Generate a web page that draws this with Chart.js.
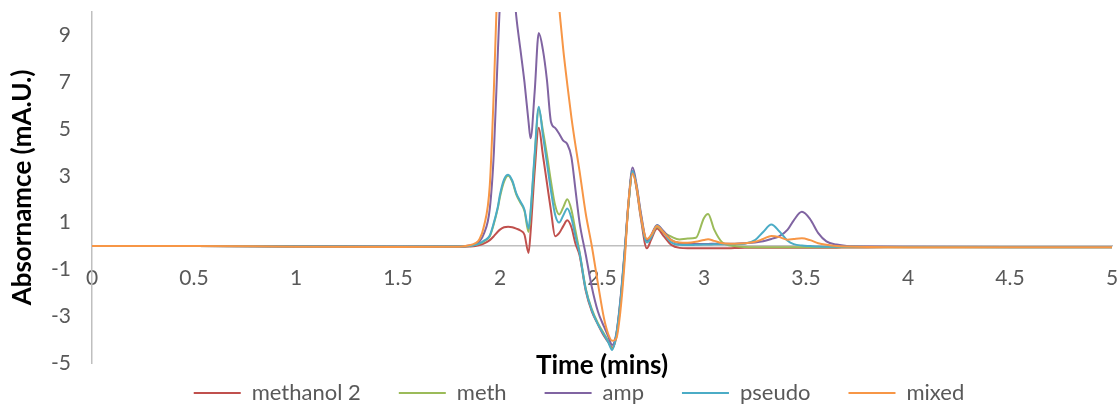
<!DOCTYPE html>
<html>
<head>
<meta charset="utf-8">
<script src="https://cdn.jsdelivr.net/npm/chart.js@4/dist/chart.umd.min.js"></script>
<style>
  html, body { margin: 0; padding: 0; background: #ffffff; }
  #wrap { width: 1120px; height: 405px; }
</style>
</head>
<body>
<div id="wrap"><canvas id="chromatogram" width="1120" height="405"></canvas></div>
<script>
// Retention time (minutes) of each sample point
const times = [
  0, 0.5, 1.0, 1.5, 1.8, 1.85, 1.88, 1.9, 1.92, 1.95,
  1.97, 1.99, 2.0, 2.02, 2.04, 2.06, 2.08, 2.1, 2.12, 2.14,
  2.15, 2.17, 2.19, 2.21, 2.23, 2.25, 2.27, 2.29, 2.31, 2.33,
  2.35, 2.37, 2.39, 2.42, 2.45, 2.48, 2.51, 2.53, 2.55, 2.57,
  2.59, 2.61, 2.63, 2.65, 2.67, 2.69, 2.72, 2.74, 2.77, 2.8,
  2.84, 2.88, 2.92, 2.96, 3.0, 3.02, 3.05, 3.09, 3.15, 3.2,
  3.25, 3.29, 3.33, 3.37, 3.41, 3.44, 3.48, 3.52, 3.56, 3.6,
  3.65, 3.7, 3.8, 4.0, 4.5, 5.0
];

// Absorbance (mA.U.) per sample
const methanol2 = [
  0, 0, -0.02, -0.03, -0.03, -0.02, 0, 0.04, 0.1, 0.25,
  0.42, 0.62, 0.7, 0.8, 0.82, 0.8, 0.74, 0.66, 0.48, -0.3,
  0.6, 3.2, 5.05, 3.9, 2.7, 1.5, 0.42, 0.55, 0.85, 1.1,
  0.8, 0.1, -0.4, -1.9, -2.8, -3.35, -3.85, -4.1, -4.35, -3.9,
  -2.5, -0.5, 1.8, 3.2, 2.4, 1.2, -0.1, 0.25, 0.75, 0.45,
  0.05, -0.08, -0.1, -0.1, -0.1, -0.1, -0.1, -0.1, -0.09, -0.08,
  -0.08, -0.08, -0.08, -0.08, -0.08, -0.08, -0.08, -0.07, -0.07, -0.07,
  -0.07, -0.06, -0.06, -0.05, -0.05, -0.05
];
const meth = [
  0, 0, -0.02, -0.03, -0.02, 0, 0.05, 0.1, 0.2, 0.42,
  0.95, 1.65, 2.1, 2.75, 3.0, 2.75, 2.2, 1.85, 1.5, 0.6,
  1.4, 3.8, 5.85, 4.95, 3.9, 2.75, 1.75, 1.35, 1.65, 2.0,
  1.55, 0.65, -0.25, -1.8, -2.7, -3.3, -3.75, -4.05, -4.4, -3.8,
  -2.4, -0.4, 1.8, 3.2, 2.5, 1.35, 0.2, 0.4, 0.82, 0.6,
  0.4, 0.28, 0.32, 0.35, 1.2, 1.37, 0.7, 0.15, 0.0, -0.04,
  -0.05, -0.05, -0.05, -0.05, -0.05, -0.05, -0.05, -0.05, -0.05, -0.05,
  -0.05, -0.05, -0.05, -0.05, -0.05, -0.05
];
const amp = [
  0, 0, -0.02, -0.03, -0.02, 0.02, 0.08, 0.2, 0.5, 1.6,
  4.0, 8.4, 10.4, 12.5, 13.0, 11.8, 9.8, 8.4, 7.0, 5.3,
  4.6, 6.6, 9.1, 8.4, 7.1, 5.3, 5.05, 4.8, 4.5, 4.35,
  3.8, 2.4, 1.0, -0.35, -1.75, -2.8, -3.45, -3.85, -4.23, -3.75,
  -2.3, -0.3, 1.9, 3.35, 2.6, 1.45, 0.25, 0.45, 0.9, 0.65,
  0.25, 0.12, 0.1, 0.09, 0.09, 0.09, 0.1, 0.1, 0.1, 0.12,
  0.15, 0.2, 0.3, 0.42, 0.7, 1.1, 1.46, 1.15, 0.55, 0.2,
  0.06, 0.0, -0.02, -0.03, -0.04, -0.04
];
const pseudo = [
  0, 0, -0.02, -0.03, -0.02, 0, 0.05, 0.11, 0.22, 0.45,
  1.0, 1.7, 2.2, 2.85, 3.05, 2.8, 2.25, 1.9, 1.55, 0.75,
  1.5, 3.95, 5.95, 4.75, 3.55, 2.35, 1.35, 1.0, 1.3, 1.6,
  1.2, 0.4, -0.3, -1.85, -2.75, -3.35, -3.8, -4.1, -4.44, -3.8,
  -2.4, -0.4, 1.8, 3.2, 2.5, 1.3, 0.15, 0.35, 0.88, 0.6,
  0.15, 0.05, 0.04, 0.05, 0.06, 0.06, 0.07, 0.07, 0.08, 0.1,
  0.25, 0.6, 0.92, 0.62, 0.22, 0.08, 0.02, 0.0, -0.02, -0.03,
  -0.03, -0.03, -0.04, -0.04, -0.05, -0.05
];
const mixed = [
  0, 0, -0.03, -0.04, -0.03, 0.03, 0.12, 0.3, 0.8, 2.6,
  6.7, 12, 14, 17, 19, 20, 21, 21.5, 21.5, 21,
  20.5, 19.5, 18, 16.5, 15, 13.5, 12, 10.2, 8.4, 6.9,
  5.5, 4.3, 3.2, 1.4, 0.0, -1.6, -3.1, -3.75, -4.05, -3.95,
  -2.8, -0.8, 1.9, 3.1, 2.5, 1.3, 0.3, 0.45, 0.85, 0.6,
  0.25, 0.15, 0.14, 0.18, 0.26, 0.29, 0.22, 0.12, 0.1, 0.12,
  0.18, 0.3, 0.43, 0.38, 0.27, 0.3, 0.33, 0.25, 0.12, 0.05,
  0.0, -0.02, -0.04, -0.05, -0.05, -0.05
];

const seriesNames = ['methanol 2', 'meth', 'amp', 'pseudo', 'mixed'];
const seriesColors = ['#C0504D', '#9BBB59', '#8064A2', '#4BACC6', '#F79646'];
const xTickValues = [0, 0.5, 1, 1.5, 2, 2.5, 3, 3.5, 4, 4.5, 5];
const yTickValues = [-5, -3, -1, 1, 3, 5, 7, 9];
const xAxisTitle = 'Time (mins)';
const yAxisTitle = 'Absornamce (mA.U.)';

const FONT = 'Lato, "Liberation Sans", sans-serif';
const AXIS_GREY = '#BFBFBF';
const LABEL_GREY = '#595959';
const LEGEND_FONT_SIZE = 22;
const LEGEND_GAP = 38;
const seriesValues = [methanol2, meth, amp, pseudo, mixed];

const datasets = seriesValues.map((vals, i) => ({
  label: seriesNames[i],
  data: times.map((t, k) => ({ x: t, y: vals[k] })),
  borderColor: seriesColors[i],
  backgroundColor: seriesColors[i],
  borderWidth: 2,
  pointRadius: 0,
  cubicInterpolationMode: 'monotone',
  order: seriesValues.length - i   // later series drawn on top
}));

// Caption for the time axis, centred under the plot area
const timeCaption = {
  id: 'timeCaption',
  afterDraw(chart) {
    const { ctx, chartArea } = chart;
    ctx.save();
    ctx.font = 'bold 26px ' + FONT;
    ctx.fillStyle = '#000000';
    ctx.textAlign = 'center';
    ctx.textBaseline = 'middle';
    ctx.fillText(xAxisTitle, (chartArea.left + chartArea.right) / 2, chartArea.bottom + 3);
    ctx.restore();
  }
};

// The legend keeps a short slot in the layout; its row is then set
// so the labels sit centred on y = 393, below the caption.
const legendPlacement = {
  id: 'legendPlacement',
  afterLayout(chart) {
    const lg = chart.legend;
    if (!lg) return;
    const rowCentre = 393;
    const dx = 0;
    lg.top = rowCentre - LEGEND_GAP - LEGEND_FONT_SIZE / 2;
    lg.bottom = chart.height;
    lg.height = lg.bottom - lg.top;
    lg.left += dx; lg.right += dx;
  }
};

new Chart(document.getElementById('chromatogram'), {
  type: 'line',
  data: { datasets },
  plugins: [timeCaption, legendPlacement],
  options: {
    responsive: false,
    devicePixelRatio: 1,
    animation: false,
    layout: { padding: { left: 46, right: 8, top: 12, bottom: 12 } },
    plugins: {
      tooltip: { enabled: false },
      legend: {
        position: 'bottom',
        maxHeight: 30,
        labels: {
          usePointStyle: true,
          pointStyle: 'line',
          pointStyleWidth: 47,
          padding: LEGEND_GAP,
          color: LABEL_GREY,
          font: { family: FONT, size: LEGEND_FONT_SIZE },
          sort: (a, b) => a.datasetIndex - b.datasetIndex
        }
      }
    },
    scales: {
      x: {
        type: 'linear',
        min: 0,
        max: 5,
        position: { y: 0 },
        afterBuildTicks: (scale) => { scale.ticks = xTickValues.map(v => ({ value: v })); },
        afterFit: (scale) => { scale.paddingLeft = 0; scale.paddingRight = 0; },
        grid: { display: false, drawTicks: false },
        border: { display: true, color: AXIS_GREY, width: 1.5 },
        ticks: {
          autoSkip: false,
          maxRotation: 0,
          padding: 20,
          color: LABEL_GREY,
          font: { family: FONT, size: 21 },
          callback: (v) => String(v)
        }
      },
      y: {
        type: 'linear',
        min: -5,
        max: 10,
        afterBuildTicks: (scale) => { scale.ticks = yTickValues.map(v => ({ value: v })); },
        afterFit: (scale) => {
          scale.width = 46;
          scale.paddingTop = 0;
          scale.paddingBottom = 0;
        },
        grid: { display: false, drawTicks: false },
        border: { display: true, color: AXIS_GREY, width: 1.5 },
        ticks: {
          padding: 21,
          color: LABEL_GREY,
          font: { family: FONT, size: 21 }
        },
        title: {
          display: true,
          text: yAxisTitle,
          color: '#000000',
          font: { family: FONT, size: 26, weight: 'bold' },
          padding: { top: -39, bottom: 0 }
        }
      }
    }
  }
});
</script>
</body>
</html>
